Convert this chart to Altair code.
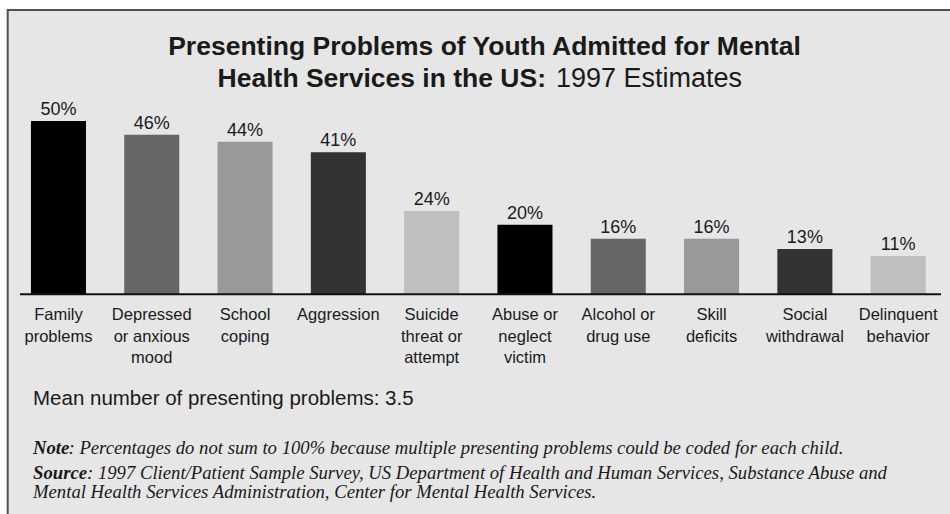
import altair as alt
import pandas as pd

# ---- data ----
categories = [
    "Family\nproblems",
    "Depressed\nor anxious\nmood",
    "School\ncoping",
    "Aggression",
    "Suicide\nthreat or\nattempt",
    "Abuse or\nneglect\nvictim",
    "Alcohol or\ndrug use",
    "Skill\ndeficits",
    "Social\nwithdrawal",
    "Delinquent\nbehavior",
]
values = [50, 46, 44, 41, 24, 20, 16, 16, 13, 11]
value_labels = [f"{v}%" for v in values]

title_line1 = "Presenting Problems of Youth Admitted for Mental"
title_line2_bold = "Health Services in the US:"
title_line2_regular = "1997 Estimates"
mean_text = "Mean number of presenting problems: 3.5"
note_head = "Note"
note_body = ": Percentages do not sum to 100% because multiple presenting problems could be coded for each child."
source_head = "Source"
source_body1 = ": 1997 Client/Patient Sample Survey, US Department of Health and Human Services, Substance Abuse and"
source_body2 = "Mental Health Services Administration, Center for Mental Health Services."

# ---- styles ----
palette = ["#000000", "#666666", "#999999", "#333333", "#bfbfbf",
           "#000000", "#666666", "#999999", "#333333", "#bfbfbf"]
BG = "#e6e6e6"
TXT = "#1a1a1a"
SANS = "Liberation Sans"
SERIF = "Liberation Serif"
TOP = 121  # page y of plot-area top


def py(page_y):
    return page_y - TOP


df = pd.DataFrame({"category": categories, "value": values, "label": value_labels})
one = pd.DataFrame({"k": [0]})

xenc = alt.X(
    "category:N",
    sort=categories,
    scale=alt.Scale(domain=categories, paddingInner=0.41, paddingOuter=0.296, align=0.56),
    axis=None,
)
yenc = alt.Y("value:Q", scale=alt.Scale(domain=[0, 50], nice=False), axis=None)

bg = alt.Chart(one).mark_rect(color=BG).encode(
    x=alt.value(8), x2=alt.value(950), y=alt.value(py(10)), y2=alt.value(py(514))
)
border_top = alt.Chart(one).mark_rule(color="#505050", strokeWidth=2).encode(
    x=alt.value(7), x2=alt.value(950), y=alt.value(py(10))
)
border_left = alt.Chart(one).mark_rule(color="#505050", strokeWidth=2).encode(
    x=alt.value(7.7), y=alt.value(py(9)), y2=alt.value(py(514))
)

base = alt.Chart(df)
bars = base.mark_bar().encode(
    x=xenc,
    y=yenc,
    color=alt.Color("category:N", scale=alt.Scale(domain=categories, range=palette), legend=None),
)
vlabels = base.mark_text(dy=-6, baseline="alphabetic", fontSize=18, font=SANS, color=TXT).encode(
    x=xenc, y=yenc, text="label:N"
)
clabels = base.mark_text(
    baseline="alphabetic", align="center", lineBreak="\n", lineHeight=21.5,
    fontSize=16.5, font=SANS, color=TXT
).encode(x=xenc, y=alt.value(py(320)), text="category:N")

axis_line = alt.Chart(one).mark_rule(color="#111111", strokeWidth=2).encode(
    x=alt.value(20), x2=alt.value(941), y=alt.value(py(294.3))
)


def label(text, x, y, size, font=SANS, weight="normal", style="normal", align="left"):
    return alt.Chart(one).mark_text(
        text=text, align=align, baseline="alphabetic", fontSize=size, font=font,
        fontWeight=weight, fontStyle=style, color=TXT
    ).encode(x=alt.value(x), y=alt.value(py(y)))


t1 = label(title_line1, 484.5, 55, 26.5, weight="bold", align="center")
t2a = label(title_line2_bold, 546, 87, 26.5, weight="bold", align="right")
t2b = label(title_line2_regular, 556, 87, 27, align="left")
mean = label(mean_text, 33, 405, 20.5)
n1 = label(note_head, 33, 454, 18.7, font=SERIF, weight="bold", style="italic")
n2 = label(note_body, 68.5, 454, 18.7, font=SERIF, style="italic")
s1 = label(source_head, 33, 479, 18.7, font=SERIF, weight="bold", style="italic")
s2 = label(source_body1, 87, 479, 18.7, font=SERIF, style="italic")
s3 = label(source_body2, 33, 498, 18.7, font=SERIF, style="italic")

chart = alt.layer(
    bg, border_top, border_left, bars, axis_line, vlabels, clabels,
    t1, t2a, t2b, mean, n1, n2, s1, s2, s3
).properties(
    width=950,
    height=173,
    padding={"left": 0, "right": 0, "top": TOP, "bottom": 514 - 294},
    autosize="none",
    background="white",
).configure_view(strokeWidth=0)

chart.save("out.html", embed_options={"renderer": "svg", "actions": False})
